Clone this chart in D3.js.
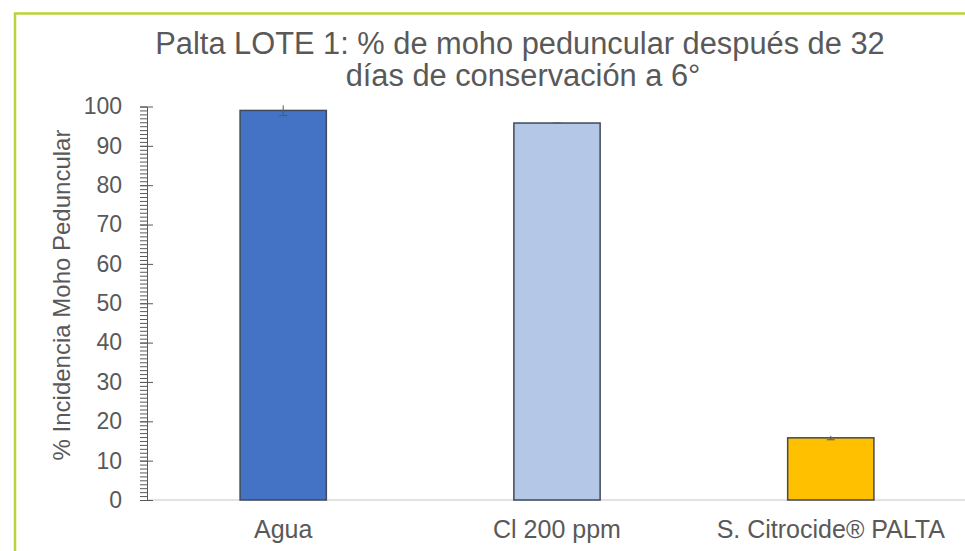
<html>
<head>
  <meta charset="utf-8">
  <script src="https://d3js.org/d3.v7.min.js"></script>
  <style>
    body { margin: 0; background: #fff; }
    text { font-family: "Liberation Sans", Arial, sans-serif; fill: #595959; }
  </style>
</head>
<body>
<script>
  var categories = ["Agua", "Cl 200 ppm", "S. Citrocide\u00ae PALTA"];
  var values = [99, 95.8, 15.8];
  var errors = [1.3, 0, 0.5];
  var colors = ["#4472c4", "#b4c7e7", "#ffc000"];
  var yTicks = [0, 10, 20, 30, 40, 50, 60, 70, 80, 90, 100];
  var titleLines = ["Palta LOTE 1: % de moho peduncular después de 32", "días de conservación a 6°"];

  var width = 965, height = 551;
  var plotLeft = 147, plotRight = 967, plotTop = 106.5, plotBottom = 500;

  var svg = d3.select("body").append("svg")
      .attr("width", width).attr("height", height);

  // green frame
  svg.append("path")
      .attr("d", "M15," + height + "V13.5H" + width)
      .attr("fill", "none")
      .attr("stroke", "#bcd23a")
      .attr("stroke-width", 2.5);

  var x = d3.scaleBand().domain(categories).range([plotLeft, plotRight]).paddingInner(0.685).paddingOuter(0.34);
  var y = d3.scaleLinear().domain([0, 100]).range([plotBottom, plotTop]);

  // title
  svg.selectAll("text.title").data(titleLines).enter().append("text")
      .attr("class", "title")
      .attr("x", function(d, i) { return i ? 523 : 520; })
      .attr("y", function(d, i) { return 54 + i * 32; })
      .attr("text-anchor", "middle")
      .style("font-size", "30.8px")
      .text(function(d) { return d; });

  // baseline
  svg.append("line")
      .attr("x1", plotLeft).attr("x2", width)
      .attr("y1", y(0)).attr("y2", y(0))
      .attr("stroke", "#d9d9d9").attr("stroke-width", 1.5);

  // bars
  svg.selectAll("rect.bar").data(values).enter().append("rect")
      .attr("class", "bar")
      .attr("x", function(d, i) { return x(categories[i]); })
      .attr("width", x.bandwidth())
      .attr("y", function(d) { return y(d); })
      .attr("height", function(d) { return y(0) - y(d); })
      .attr("fill", function(d, i) { return colors[i]; })
      .attr("stroke", "#3f4a5a")
      .attr("stroke-width", 1.5);

  // error bars
  var eg = svg.selectAll("g.err").data(values).enter().append("g")
      .attr("class", "err")
      .attr("stroke", "#595959").attr("stroke-width", 1);
  eg.append("line")
      .attr("x1", function(d, i) { return x(categories[i]) + x.bandwidth() / 2; })
      .attr("x2", function(d, i) { return x(categories[i]) + x.bandwidth() / 2; })
      .attr("y1", function(d, i) { return y(d + errors[i]); })
      .attr("y2", function(d, i) { return y(d - errors[i]); });
  eg.append("line")
      .attr("x1", function(d, i) { return x(categories[i]) + x.bandwidth() / 2 - 4; })
      .attr("x2", function(d, i) { return x(categories[i]) + x.bandwidth() / 2 + 4; })
      .attr("y1", function(d, i) { return y(d - errors[i]); })
      .attr("y2", function(d, i) { return y(d - errors[i]); });

  // minor ticks
  svg.append("g")
      .attr("transform", "translate(" + plotLeft + ",0)")
      .call(d3.axisLeft(y).ticks(100).tickSize(7).tickFormat(""))
      .call(function(g) {
        g.select(".domain").remove();
        g.selectAll("line").attr("stroke", "#595959");
      });

  // y axis
  var yAxis = svg.append("g")
      .attr("transform", "translate(" + plotLeft + ",0)")
      .call(d3.axisLeft(y).tickValues(yTicks).tickSizeInner(7).tickSizeOuter(0).tickPadding(18));
  yAxis.select(".domain").attr("stroke", "#595959");
  yAxis.selectAll(".tick line").attr("stroke", "#595959").attr("x1", -7).attr("x2", 6);
  yAxis.selectAll("text").style("font-size", "23px").attr("fill", "#595959")
      .attr("font-family", null);

  // x labels
  svg.selectAll("text.xl").data(categories).enter().append("text")
      .attr("class", "xl")
      .attr("x", function(d) { return x(d) + x.bandwidth() / 2; })
      .attr("y", 538)
      .attr("text-anchor", "middle")
      .style("font-size", "25px")
      .text(function(d) { return d; });

  // y title
  svg.append("text")
      .attr("transform", "translate(70,295) rotate(-90)")
      .attr("text-anchor", "middle")
      .style("font-size", "24px")
      .text("% Incidencia Moho Peduncular");
</script>
</body>
</html>
